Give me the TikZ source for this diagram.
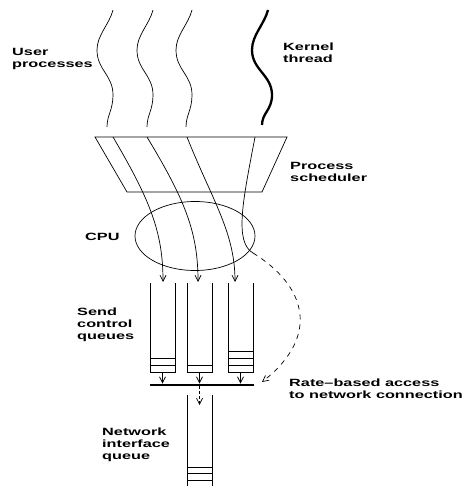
\documentclass[tikz,border=0pt]{standalone}
\usepackage{fontspec}
\setmainfont[FakeStretch=1.55]{Liberation Sans}
\usepackage{tikz}
\usetikzlibrary{shapes.geometric,arrows.meta,calc}

\begin{document}
\begin{tikzpicture}[x=1pt, y=-1pt,
    thread/.style={line width=0.7pt},
    kthread/.style={line width=2.3pt},
    arrow/.style={-{Straight Barb[length=6pt,width=6pt]}, line width=0.7pt},
    queue/.style={line width=0.8pt},
    lbl/.style={align=left, inner sep=0pt, anchor=north west, font=\fontsize{10.5}{12}\selectfont\bfseries}
]
\useasboundingbox (0,0) rectangle (471,486);

% threads above the scheduler
\foreach \x in {113,153,192}
    \draw[thread] (\x,10) .. controls (\x-4,25) and (\x-16,35) .. (\x-16,50)
        .. controls (\x-16,70) and (\x,75) .. (\x,95)
        .. controls (\x,110) and (\x-6,115) .. (\x-6,127);
\draw[kthread] (268,10) .. controls (264,25) and (252,35) .. (252,50)
    .. controls (252,70) and (272,75) .. (272,95)
    .. controls (272,110) and (262,113) .. (262,125);

% scheduler and CPU
\draw[thread] (95,137) -- (287,137) -- (262,192) -- (127,192) -- cycle;
\node[draw, ellipse, thread, minimum width=120pt, minimum height=69pt, inner sep=0pt] (cpu) at (195,236) {};

% rate-based access bar
\node[fill, inner sep=0pt, minimum width=104pt, minimum height=2.5pt] (bar) at (202,385) {};

% send control queues
\foreach \n/\x/\k in {1/150/2, 2/187/1, 3/228/3} {
    \draw[queue] (\x,283) -- (\x,372) -- (\x+25,372) -- (\x+25,283);
    \foreach \c in {1,...,\k}
        \draw[queue] (\x,372-6.8*\c) -- ++(25,0);
    \coordinate (q\n) at (\x+12.5,372);
    \draw[arrow] (q\n) -- (q\n |- bar.north);
}

% threads through scheduler and CPU
\foreach \i/\xs/\xc/\xe in {1/113/150/163, 2/147/185/198, 3/187/212/235} {
    \coordinate (s\i) at (\xs,137);
    \coordinate (t\i) at (\xe,282);
    \draw[arrow] (s\i) .. controls (\xc,200) and (\xe,232) .. (t\i);
}
\coordinate (k0) at (255,137);
\coordinate (k1) at (253,253);
\coordinate (rate) at (262,382);
\draw[thread] (k0) .. controls (243,200) and (234,242) .. (k1);
\draw[arrow, dash pattern=on 5pt off 5pt] (k1) .. controls (305,285) and (322,335) .. (rate);

% network interface queue
\coordinate (niq) at (199.5,395);
\draw[queue] (187,395) -- (187,490);
\draw[queue] (212,395) -- (212,490);
\foreach \c in {0,1,2}
    \draw[queue] (187,467+6.7*\c) -- (212,467+6.7*\c);
\coordinate (niqin) at (199.5,405);
\draw[arrow, dash pattern=on 3pt off 2pt] (bar.south -| niq) -- (niqin);

% labels
\node[lbl] (user) at (12,48) {User\\processes};
\node[lbl] (kernel) at (283,43) {Kernel\\thread};
\node[lbl] (sched) at (290,162) {Process\\scheduler};
\node[lbl] (cpulbl) at (85,233) {CPU};
\node[lbl] (send) at (77,308) {Send\\control\\queues};
\node[lbl] (rlbl) at (289,379) {Rate--based access\\to network connection};
\node[lbl] (niqlbl) at (102,428) {Network\\interface\\queue};
\end{tikzpicture}
\end{document}
